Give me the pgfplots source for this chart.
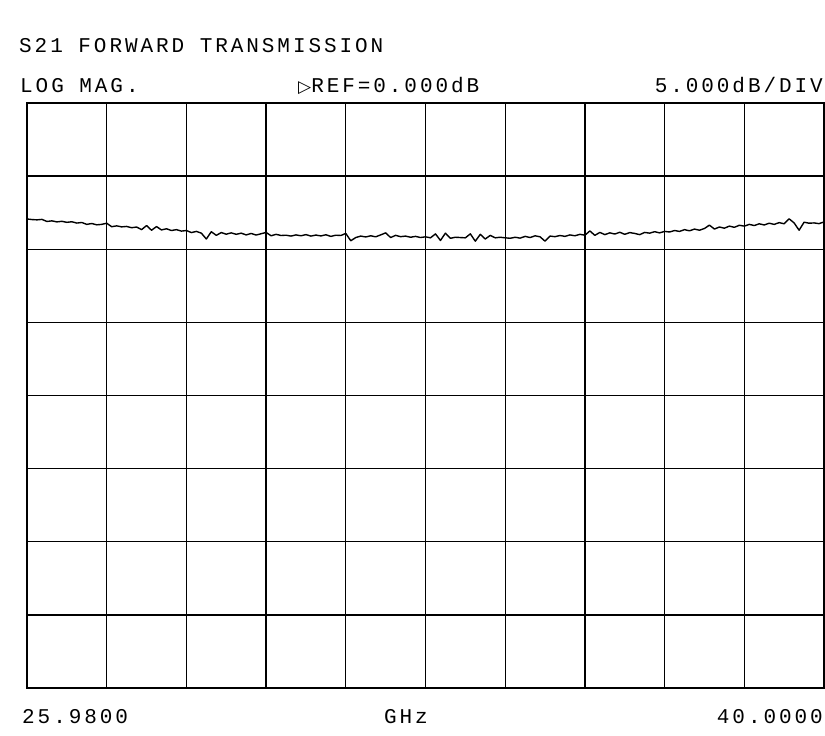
\documentclass[border=0pt]{standalone}
\usepackage{fontspec}
\usepackage{pgfplots}
\pgfplotsset{compat=1.18}
\newfontfamily\plotfont[LetterSpace=14]{Liberation Mono}
\newfontfamily\symfont{DejaVu Sans}

% S21 trace, sample index 0..160 (16 per division), dB
\begin{document}
\begin{tikzpicture}
\useasboundingbox (0pt,0pt) rectangle (825pt,736pt);
\plotfont\fontsize{21}{25}\selectfont
\begin{axis}[
    at={(27pt,48pt)}, anchor=south west,
    scale only axis,
    width=797pt, height=585pt,
    xmin=0, xmax=160,
    ymin=-40, ymax=0,
    xtick={0,16,...,160},
    ytick={-40,-35,...,0},
    xticklabels={}, yticklabels={},
    major tick length=0pt,
    grid=major,
    grid style={black, line width=1.3pt},
    axis line style={black, line width=1.5pt},
    clip=true,
]
\addplot[black, line width=1.4pt, line join=round] coordinates {
(0,-7.93)(1,-7.97)(2,-7.99)(3,-7.96)(4,-8.10)(5,-8.06)(6,-8.13)(7,-8.09)
(8,-8.16)(9,-8.12)(10,-8.21)(11,-8.17)(12,-8.30)(13,-8.24)(14,-8.33)(15,-8.30)
(16,-8.22)(17,-8.46)(18,-8.40)(19,-8.47)(20,-8.44)(21,-8.53)(22,-8.48)(23,-8.66)
(24,-8.38)(25,-8.70)(26,-8.45)(27,-8.68)(28,-8.60)(29,-8.72)(30,-8.66)(31,-8.76)
(32,-8.72)(33,-8.86)(34,-8.78)(35,-8.90)(36,-9.30)(37,-8.80)(38,-9.05)(39,-8.86)
(40,-8.97)(41,-8.88)(42,-8.98)(43,-8.90)(44,-9.02)(45,-8.92)(46,-9.03)(47,-8.94)
(48,-8.85)(49,-9.08)(50,-8.98)(51,-9.06)(52,-9.04)(53,-9.10)(54,-9.02)(55,-9.08)
(56,-9.00)(57,-9.10)(58,-9.03)(59,-9.09)(60,-9.01)(61,-9.12)(62,-9.04)(63,-9.06)
(64,-8.92)(65,-9.42)(66,-9.20)(67,-9.10)(68,-9.16)(69,-9.08)(70,-9.15)(71,-9.02)
(72,-8.88)(73,-9.20)(74,-9.05)(75,-9.14)(76,-9.10)(77,-9.18)(78,-9.12)(79,-9.20)
(80,-9.15)(81,-9.22)(82,-8.95)(83,-9.40)(84,-8.90)(85,-9.25)(86,-9.18)(87,-9.20)
(88,-9.22)(89,-8.95)(90,-9.45)(91,-8.98)(92,-9.30)(93,-9.05)(94,-9.22)(95,-9.18)
(96,-9.22)(97,-9.25)(98,-9.18)(99,-9.24)(100,-9.12)(101,-9.20)(102,-9.08)(103,-9.15)
(104,-9.45)(105,-9.10)(106,-9.14)(107,-9.06)(108,-9.12)(109,-9.02)(110,-9.08)(111,-8.98)
(112,-9.04)(113,-8.75)(114,-9.05)(115,-8.85)(116,-9.00)(117,-8.88)(118,-8.96)(119,-8.84)
(120,-8.98)(121,-8.86)(122,-8.92)(123,-9.00)(124,-8.85)(125,-8.90)(126,-8.80)(127,-8.88)
(128,-8.78)(129,-8.82)(130,-8.72)(131,-8.78)(132,-8.66)(133,-8.74)(134,-8.62)(135,-8.70)
(136,-8.58)(137,-8.35)(138,-8.62)(139,-8.48)(140,-8.56)(141,-8.42)(142,-8.50)(143,-8.36)
(144,-8.42)(145,-8.30)(146,-8.38)(147,-8.26)(148,-8.34)(149,-8.22)(150,-8.30)(151,-8.18)
(152,-8.26)(153,-7.92)(154,-8.20)(155,-8.70)(156,-8.15)(157,-8.22)(158,-8.20)(159,-8.25)
(160,-8.13)
};
\node[anchor=east, inner sep=1pt] at (rel axis cs:0,1) {\symfont\fontsize{18}{18}\selectfont ▷};
\end{axis}
\node[anchor=base west, inner sep=0pt] at (19pt,683pt) {S21 FORWARD TRANSMISSION};
\node[anchor=base west, inner sep=0pt] at (20pt,643pt) {LOG MAG.};
\node[anchor=base west, inner sep=0pt] at (298pt,643pt) {{\symfont\fontsize{17}{17}\selectfont ▷}REF=0.000dB};
\node[anchor=base east, inner sep=0pt] at (823pt,643pt) {5.000dB/DIV};
\node[anchor=base west, inner sep=0pt] at (22pt,12pt) {25.9800};
\node[anchor=base, inner sep=0pt] at (406pt,12pt) {GHz};
\node[anchor=base east, inner sep=0pt] at (823pt,12pt) {40.0000};
\end{tikzpicture}
\end{document}
